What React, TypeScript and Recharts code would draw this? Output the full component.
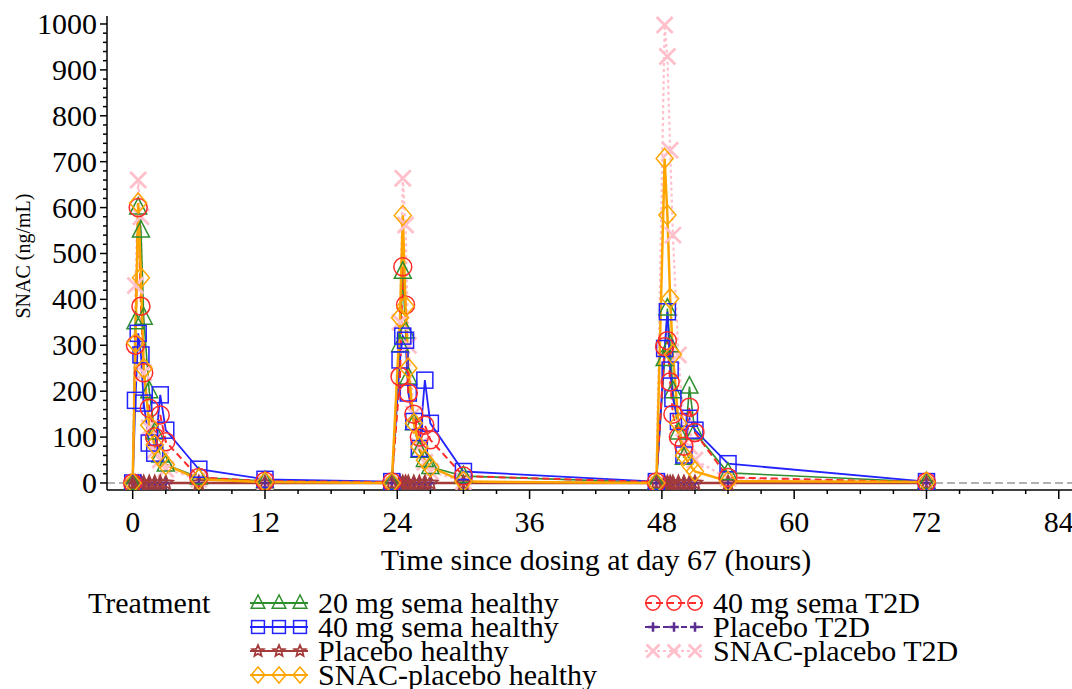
import React from 'react';
import { LineChart, Line, XAxis, YAxis, ReferenceLine } from 'recharts';

// Time points (hours since dosing at day 67)
const times = [
  0, 0.25, 0.5, 0.75, 1, 1.5, 2, 2.5, 3, 6, 12,
  23.5, 24.25, 24.5, 24.75, 25, 25.5, 26, 26.5, 27, 30,
  47.5, 48.25, 48.5, 48.75, 49, 49.5, 50, 50.5, 51, 54, 72,
];

// SNAC (ng/mL) per treatment
const sema20Healthy = [
  0, 350, 600, 550, 360, 200, 110, 60, 40, 12, 4,
  1, 300, 460, 330, 230, 130, 70, 50, 35, 15,
  1, 270, 380, 300, 200, 110, 55, 210, 110, 22, 2,
];
const sema40Healthy = [
  0, 180, 326, 279, 174, 87, 65, 192, 115, 30, 8,
  3, 268, 320, 311, 196, 134, 75, 224, 130, 25,
  3, 293, 373, 246, 184, 134, 61, 141, 115, 42, 3,
];
const placeboHealthy = [
  0, 0, 0, 0, 0, 0, 0, 0, 0, 0, 0,
  0, 0, 0, 0, 0, 0, 0, 0, 0, 0,
  0, 0, 0, 0, 0, 0, 0, 0, 0, 0, 0,
];
const snacPlaceboHealthy = [
  0, 305, 610, 447, 250, 126, 83, 55, 40, 8, 2,
  0, 360, 583, 385, 250, 130, 79, 50, 35, 3,
  0, 707, 584, 402, 280, 130, 60, 40, 25, 4, 2,
];
const sema40T2D = [
  0, 300, 600, 385, 240, 163, 100, 148, 90, 12, 4,
  2, 232, 471, 388, 196, 150, 100, 126, 94, 15,
  2, 297, 310, 220, 150, 100, 80, 165, 110, 12, 2,
];
const placeboT2D = [
  0, 0, 0, 0, 0, 0, 0, 0, 0, 0, 0,
  0, 0, 0, 0, 0, 0, 0, 0, 0, 0,
  0, 0, 0, 0, 0, 0, 0, 0, 0, 0, 0,
];
const snacPlaceboT2D = [
  0, 430, 660, 580, 240, 120, 70, 50, 30, 8, 2,
  0, 350, 664, 562, 300, 150, 80, 45, 25, 3,
  0, 998, 929, 725, 540, 279, 120, 80, 50, 10, 2,
];

const xTicks = [0, 3, 6, 9, 12, 15, 18, 21, 24, 27, 30, 33, 36, 39, 42, 45, 48, 51, 54, 57, 60, 63, 66, 69, 72, 75, 78, 81, 84];
const yTicks = [
  0, 20, 40, 60, 80, 100, 120, 140, 160, 180, 200, 220, 240, 260, 280, 300, 320, 340, 360, 380, 400,
  420, 440, 460, 480, 500, 520, 540, 560, 580, 600, 620, 640, 660, 680, 700, 720, 740, 760, 780, 800,
  820, 840, 860, 880, 900, 920, 940, 960, 980, 1000,
];

const FONT = '"Liberation Serif", "Times New Roman", serif';

type Shape = 'triangle' | 'square' | 'star' | 'diamond' | 'circle' | 'plus' | 'x';

interface SeriesDef {
  key: string;
  name: string;
  values: number[];
  color: string;
  dash?: string;
  width: number;
  shape: Shape;
}

const series: SeriesDef[] = [
  { key: 'sema20Healthy', name: '20 mg sema healthy', values: sema20Healthy, color: '#2f8f2f', width: 1.6, shape: 'triangle' },
  { key: 'sema40Healthy', name: '40 mg sema healthy', values: sema40Healthy, color: '#2323ff', width: 1.8, shape: 'square' },
  { key: 'placeboHealthy', name: 'Placebo healthy', values: placeboHealthy, color: '#a33b3b', width: 2.5, shape: 'star' },
  { key: 'snacPlaceboHealthy', name: 'SNAC-placebo healthy', values: snacPlaceboHealthy, color: '#ffa500', width: 2.5, shape: 'diamond' },
  { key: 'sema40T2D', name: '40 mg sema T2D', values: sema40T2D, color: '#ff2a2a', dash: '7 4', width: 2, shape: 'circle' },
  { key: 'placeboT2D', name: 'Placebo T2D', values: placeboT2D, color: '#5c2d91', dash: '6 3', width: 2, shape: 'plus' },
  { key: 'snacPlaceboT2D', name: 'SNAC-placebo T2D', values: snacPlaceboT2D, color: '#ffc0cb', dash: '3 3', width: 2.2, shape: 'x' },
];

const drawOrder = ['snacPlaceboT2D', 'placeboT2D', 'placeboHealthy', 'sema20Healthy', 'sema40Healthy', 'sema40T2D', 'snacPlaceboHealthy'];

const data = times.map((t, i) => {
  const row: Record<string, number> = { t };
  series.forEach((s) => {
    row[s.key] = s.values[i];
  });
  return row;
});

function starPoints(cx: number, cy: number, r: number) {
  const pts: string[] = [];
  for (let k = 0; k < 10; k++) {
    const rr = k % 2 === 0 ? r : r * 0.45;
    const a = -Math.PI / 2 + (k * Math.PI) / 5;
    pts.push(`${cx + rr * Math.cos(a)},${cy + rr * Math.sin(a)}`);
  }
  return pts.join(' ');
}

function Marker({ shape, cx, cy, color, s = 1 }: { shape: Shape; cx: number; cy: number; color: string; s?: number }) {
  const sw = 1.5;
  switch (shape) {
    case 'triangle':
      return (
        <polygon
          points={`${cx},${cy - 10 * s} ${cx - 8.5 * s},${cy + 6.5 * s} ${cx + 8.5 * s},${cy + 6.5 * s}`}
          fill="none" stroke={color} strokeWidth={sw}
        />
      );
    case 'square':
      return <rect x={cx - 8 * s} y={cy - 8 * s} width={16 * s} height={16 * s} fill="none" stroke={color} strokeWidth={sw} />;
    case 'star':
      return <polygon points={starPoints(cx, cy, 7.5 * s)} fill="none" stroke={color} strokeWidth={1.8} />;
    case 'diamond':
      return (
        <polygon
          points={`${cx},${cy - 10 * s} ${cx + 8.5 * s},${cy} ${cx},${cy + 10 * s} ${cx - 8.5 * s},${cy}`}
          fill="none" stroke={color} strokeWidth={sw}
        />
      );
    case 'circle':
      return <circle cx={cx} cy={cy} r={9 * s} fill="none" stroke={color} strokeWidth={sw} />;
    case 'plus':
      return (
        <path
          d={`M${cx - 6 * s},${cy} L${cx + 6 * s},${cy} M${cx},${cy - 6 * s} L${cx},${cy + 6 * s}`}
          stroke={color} strokeWidth={2.5}
        />
      );
    case 'x':
    default:
      return (
        <path
          d={`M${cx - 8 * s},${cy - 8 * s} L${cx + 8 * s},${cy + 8 * s} M${cx - 8 * s},${cy + 8 * s} L${cx + 8 * s},${cy - 8 * s}`}
          stroke={color} strokeWidth={2.8}
        />
      );
  }
}

function makeDot(shape: Shape, color: string) {
  return (props: any) => {
    const { cx, cy, index } = props;
    if (cx == null || cy == null || isNaN(cx) || isNaN(cy)) return <g key={`d-${index}`} />;
    return (
      <g key={`d-${index}`}>
        <Marker shape={shape} cx={cx} cy={cy} color={color} />
      </g>
    );
  };
}

const XTick = (props: any) => {
  const { x, y, payload } = props;
  const v = payload.value;
  const major = v % 12 === 0;
  return (
    <g>
      <line x1={x} y1={y} x2={x} y2={y + (major ? 9 : 4)} stroke="#000" strokeWidth={1.5} />
      {major && (
        <text x={x} y={y + 42} textAnchor="middle" fontSize={30} fontFamily={FONT} fill="#000">
          {v}
        </text>
      )}
    </g>
  );
};

const YTick = (props: any) => {
  const { x, y, payload } = props;
  const v = payload.value;
  const major = v % 100 === 0;
  return (
    <g>
      <line x1={x - (major ? 7 : 4)} y1={y} x2={x} y2={y} stroke="#000" strokeWidth={1.5} />
      {major && (
        <text x={x - 10} y={y + 10} textAnchor="end" fontSize={30} fontFamily={FONT} fill="#000">
          {v}
        </text>
      )}
    </g>
  );
};

const legendCol1 = ['sema20Healthy', 'sema40Healthy', 'placeboHealthy', 'snacPlaceboHealthy'];
const legendCol2 = ['sema40T2D', 'placeboT2D', 'snacPlaceboT2D'];
const legendRowsY = [603, 627, 651, 675];

function LegendItem({ def, x0, yc }: { def: SeriesDef; x0: number; yc: number }) {
  return (
    <g>
      <line x1={x0} y1={yc} x2={x0 + 58} y2={yc} stroke={def.color} strokeWidth={2} strokeDasharray={def.dash} />
      {[x0 + 8, x0 + 29, x0 + 50].map((mx) => (
        <Marker key={mx} shape={def.shape} cx={mx} cy={yc} color={def.color} s={0.8} />
      ))}
      <text x={x0 + 68} y={yc + 10} fontSize={30} fontFamily={FONT} fill="#000">
        {def.name}
      </text>
    </g>
  );
}

export default function App() {
  const byKey = (k: string) => series.find((s) => s.key === k)!;
  return (
    <div style={{ position: 'absolute', left: 0, top: 0, width: 1072, height: 689, background: '#fff', overflow: 'hidden' }}>
      <LineChart width={1072} height={600} data={data} margin={{ top: 16, right: 0, bottom: 0, left: 0 }}>
        <XAxis
          xAxisId="top"
          orientation="top"
          type="number"
          dataKey="t"
          domain={[-2.33, 85.2]}
          allowDataOverflow
          height={0}
          tick={false}
          tickLine={false}
          axisLine={{ stroke: '#000', strokeWidth: 1.5 }}
        />
        <XAxis
          type="number"
          dataKey="t"
          domain={[-2.33, 85.2]}
          allowDataOverflow
          ticks={xTicks}
          interval={0}
          height={110}
          tickSize={0}
          tickMargin={0}
          tickLine={false}
          tick={<XTick />}
          axisLine={{ stroke: '#000', strokeWidth: 1.5 }}
        />
        <YAxis
          type="number"
          domain={[-15.3, 1017.4]}
          allowDataOverflow
          ticks={yTicks}
          interval={0}
          width={107}
          tickSize={0}
          tickMargin={0}
          tickLine={false}
          tick={<YTick />}
          axisLine={{ stroke: '#000', strokeWidth: 1.5 }}
        />
        <ReferenceLine y={0} stroke="#9a9a9a" strokeDasharray="8 4" strokeWidth={1.5} />
        {drawOrder.map((k) => {
          const s = byKey(k);
          return (
            <Line
              key={s.key}
              type="linear"
              dataKey={s.key}
              name={s.name}
              stroke={s.color}
              strokeWidth={s.width}
              strokeDasharray={s.dash}
              dot={makeDot(s.shape, s.color)}
              activeDot={false}
              isAnimationActive={false}
              connectNulls
            />
          );
        })}
      </LineChart>
      <svg
        width={1072}
        height={689}
        style={{ position: 'absolute', left: 0, top: 0, pointerEvents: 'none' }}
      >
        <text x={30} y={256} transform="rotate(-90 30 256)" textAnchor="middle" fontSize={20} fontFamily={FONT} fill="#000">
          SNAC (ng/mL)
        </text>
        <text x={596} y={570} textAnchor="middle" fontSize={30} fontFamily={FONT} fill="#000">
          Time since dosing at day 67 (hours)
        </text>
        <text x={88} y={613} fontSize={30} fontFamily={FONT} fill="#000">
          Treatment
        </text>
        {legendCol1.map((k, i) => (
          <LegendItem key={k} def={byKey(k)} x0={250} yc={legendRowsY[i]} />
        ))}
        {legendCol2.map((k, i) => (
          <LegendItem key={k} def={byKey(k)} x0={645} yc={legendRowsY[i]} />
        ))}
      </svg>
    </div>
  );
}
